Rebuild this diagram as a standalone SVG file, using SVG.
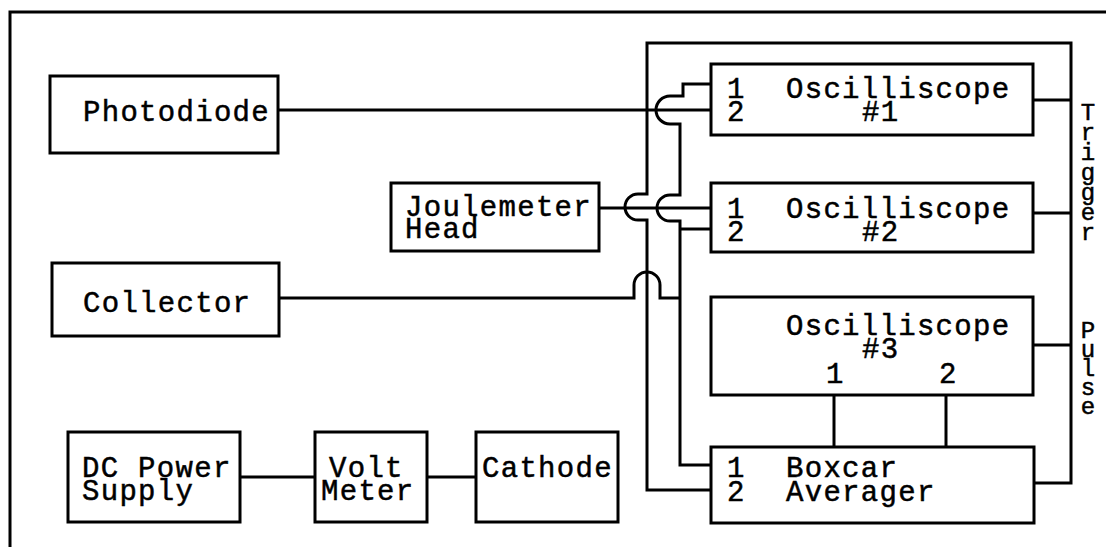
<svg xmlns="http://www.w3.org/2000/svg" width="1106" height="547" viewBox="0 0 1106 547">
<style>
.box{fill:#fff;stroke:#000;stroke-width:3}
.ln{fill:none;stroke:#000;stroke-width:3;stroke-linejoin:miter}
.t{font-family:"Liberation Mono","Courier New",monospace;font-size:29px;letter-spacing:1.3px;fill:#000;stroke:#000;stroke-width:0.5}
.v{font-family:"Liberation Mono","Courier New",monospace;font-size:24px;fill:#000;stroke:#000;stroke-width:0.5;writing-mode:vertical-rl;text-orientation:upright}
</style>
<rect width="1106" height="547" fill="#fff"/>
<path class="ln" d="M10,547 V12 H1106" stroke-width="2"/>
<g id="connectors">
<path class="ln" d="M278,110 H711"/>
<path class="ln" d="M599,208 H711"/>
<path class="ln" d="M279,298 H634 V285 A13,13 0 0 1 660,285 V298 H680"/>
<path class="ln" d="M711,84 H683 V96 H670 A14,14 0 0 0 670,124 H680 V195 H670 A13,13 0 0 0 670,221 H680 V465 H711"/>
<path class="ln" d="M680,229 H711"/>
<path class="ln" d="M1034,483 H1071 V43 H647 V194 H638 A13,13 0 0 0 638,220 H647 V490 H711"/>
<path class="ln" d="M1033,100 H1071"/>
<path class="ln" d="M1033,213 H1071"/>
<path class="ln" d="M1033,345 H1071"/>
<path class="ln" d="M834,395 V447"/>
<path class="ln" d="M946,395 V447"/>
<path class="ln" d="M240,477 H315"/>
<path class="ln" d="M427,477 H476"/>
</g>
<g id="photodiode"><rect class="box" x="50" y="76" width="228" height="77"/><text class="t" x="83" y="121">Photodiode</text></g>
<g id="collector"><rect class="box" x="52" y="263" width="227" height="73"/><text class="t" x="83" y="312">Collector</text></g>
<g id="joulemeter"><rect class="box" x="391" y="183" width="208" height="68"/><text class="t" x="405" y="216">Joulemeter</text><text class="t" x="405" y="238">Head</text></g>
<g id="dcpower"><rect class="box" x="68" y="432" width="172" height="90"/><text class="t" x="82" y="477">DC Power</text><text class="t" x="82" y="500">Supply</text></g>
<g id="voltmeter"><rect class="box" x="315" y="432" width="112" height="90"/><text class="t" x="329" y="477">Volt</text><text class="t" x="321" y="500">Meter</text></g>
<g id="cathode"><rect class="box" x="476" y="432" width="142" height="90"/><text class="t" x="482" y="477">Cathode</text></g>
<g id="osc1"><rect class="box" x="711" y="64" width="322" height="71"/><text class="t" x="727" y="98">1</text><text class="t" x="727" y="121">2</text><text class="t" x="786" y="98">Oscilliscope</text><text class="t" x="862" y="121">#1</text></g>
<g id="osc2"><rect class="box" x="711" y="183" width="322" height="69"/><text class="t" x="727" y="218">1</text><text class="t" x="727" y="241">2</text><text class="t" x="786" y="218">Oscilliscope</text><text class="t" x="862" y="241">#2</text></g>
<g id="osc3"><rect class="box" x="711" y="297" width="322" height="98"/><text class="t" x="786" y="335">Oscilliscope</text><text class="t" x="862" y="358">#3</text><text class="t" x="826" y="383">1</text><text class="t" x="939" y="383">2</text></g>
<g id="boxcar"><rect class="box" x="711" y="447" width="323" height="76"/><text class="t" x="727" y="477">1</text><text class="t" x="727" y="501">2</text><text class="t" x="786" y="477">Boxcar</text><text class="t" x="786" y="501">Averager</text></g>
<g id="trigger-pulse-label">
<text class="v" x="1088" y="100" letter-spacing="-7">Trigger</text>
<text class="v" x="1088" y="318" letter-spacing="-8">Pulse</text>
</g>
</svg>
